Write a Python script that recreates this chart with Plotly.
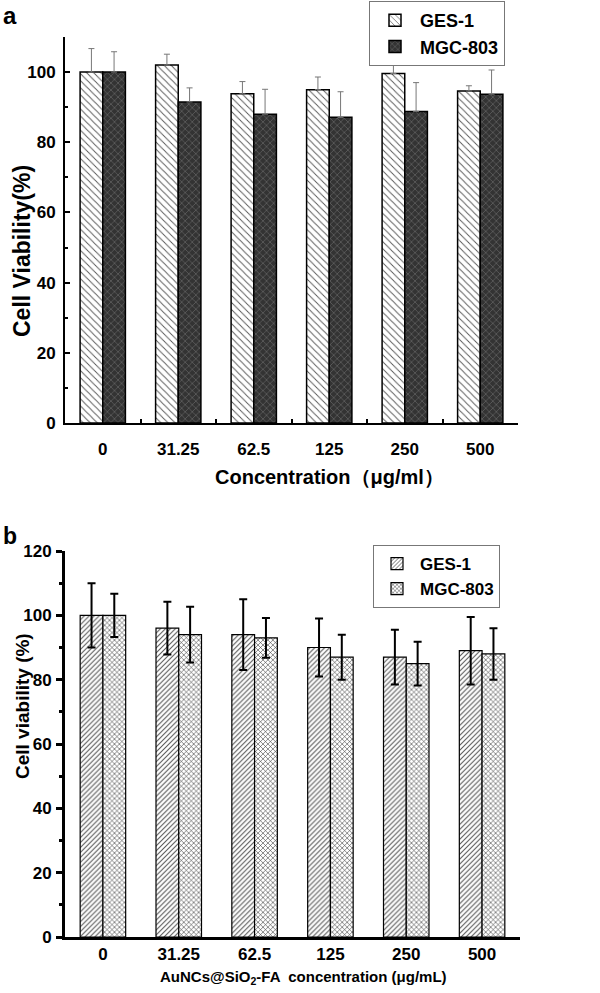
import plotly.graph_objects as go

W, H = 600, 993

# ---------------- data ----------------
conc_labels = ["0", "31.25", "62.5", "125", "250", "500"]

a_ges = [100.0, 102.0, 93.8, 95.0, 99.6, 94.6]
a_ges_err = [6.7, 3.1, 3.5, 3.6, 3.4, 1.5]
a_mgc = [100.0, 91.5, 88.0, 87.1, 88.8, 93.7]
a_mgc_err = [5.8, 4.0, 7.1, 7.3, 8.2, 6.9]

b_ges = [100.0, 96.0, 94.0, 90.0, 87.0, 89.0]
b_ges_err = [10.0, 8.2, 11.0, 9.0, 8.5, 10.5]
b_mgc = [100.0, 94.0, 93.0, 87.0, 85.0, 88.0]
b_mgc_err = [6.7, 8.7, 6.2, 7.0, 6.8, 8.0]

series_names = ["GES-1", "MGC-803"]

FONT = "Liberation Sans, Arial, Helvetica, sans-serif"


def px_x(p):
    return p / W


def px_y(p):
    return 1 - p / H


fig = go.Figure()

# ---------------- panel a ----------------
fig.add_trace(go.Bar(
    x=conc_labels, y=a_ges, name=series_names[0],
    xaxis="x", yaxis="y", legend="legend",
    marker=dict(color="white", line=dict(color="black", width=1.5),
                pattern=dict(shape="\\", size=5, solidity=0.18,
                             fgcolor="#555555", bgcolor="white", fillmode="replace")),
    error_y=dict(type="data", symmetric=False, array=a_ges_err,
                 arrayminus=[0] * len(a_ges_err), color="#777777",
                 thickness=1, width=3),
))
fig.add_trace(go.Bar(
    x=conc_labels, y=a_mgc, name=series_names[1],
    xaxis="x", yaxis="y", legend="legend",
    marker=dict(color="#333333", line=dict(color="black", width=1.5),
                pattern=dict(shape="x", size=5, solidity=0.18,
                             fgcolor="#7a7a7a", bgcolor="#333333", fillmode="replace")),
    error_y=dict(type="data", symmetric=False, array=a_mgc_err,
                 arrayminus=[0] * len(a_mgc_err), color="#777777",
                 thickness=1, width=3),
))

# ---------------- panel b ----------------
fig.add_trace(go.Bar(
    x=conc_labels, y=b_ges, name=series_names[0],
    xaxis="x2", yaxis="y2", legend="legend2",
    marker=dict(color="white", line=dict(color="black", width=1.2),
                pattern=dict(shape="/", size=3.5, solidity=0.3,
                             fgcolor="#555555", bgcolor="white", fillmode="replace")),
    error_y=dict(type="data", array=b_ges_err, color="black",
                 thickness=2, width=4),
))
fig.add_trace(go.Bar(
    x=conc_labels, y=b_mgc, name=series_names[1],
    xaxis="x2", yaxis="y2", legend="legend2",
    marker=dict(color="white", line=dict(color="black", width=1.2),
                pattern=dict(shape="x", size=3.5, solidity=0.3,
                             fgcolor="#333333", bgcolor="white", fillmode="replace")),
    error_y=dict(type="data", array=b_mgc_err, color="black",
                 thickness=2, width=4),
))

tick_font_a = dict(family=FONT, size=17, color="black", weight="bold")
tick_font_b = dict(family=FONT, size=17, color="black", weight="bold")

fig.update_layout(
    width=W, height=H, autosize=False,
    margin=dict(l=0, r=0, t=0, b=0, pad=0, autoexpand=False),
    paper_bgcolor="white", plot_bgcolor="white",
    barmode="group", bargap=0.4, bargroupgap=0,
    font=dict(family=FONT, color="black"),
    xaxis=dict(
        domain=[px_x(65), px_x(518)], anchor="y",
        type="category", range=[-0.5, 5.5],
        showline=True, linecolor="black", linewidth=2,
        ticks="inside", tickson="boundaries", ticklen=4, tickwidth=1.5,
        tickcolor="black", tickfont=tick_font_a, ticklabelstandoff=10,
        showgrid=False, zeroline=False, automargin=False,
    ),
    yaxis=dict(
        domain=[px_y(423), px_y(37)], anchor="x",
        range=[0, 110], dtick=20, tick0=0,
        showline=True, linecolor="black", linewidth=2,
        ticks="inside", ticklen=5, tickwidth=1.5, tickcolor="black",
        minor=dict(dtick=10, ticks="inside", ticklen=3, tickwidth=1.5, tickcolor="black"),
        tickfont=tick_font_a, ticklabelstandoff=4,
        showgrid=False, zeroline=False, automargin=False,
    ),
    xaxis2=dict(
        domain=[px_x(65), px_x(520)], anchor="y2",
        type="category", range=[-0.5, 5.5],
        showline=True, linecolor="black", linewidth=3,
        ticks="", ticklen=0, tickfont=tick_font_b, ticklabelstandoff=0,
        showgrid=False, zeroline=False, automargin=False,
    ),
    yaxis2=dict(
        domain=[px_y(937), px_y(551)], anchor="x2",
        range=[0, 120], dtick=20, tick0=0,
        showline=True, linecolor="black", linewidth=3,
        ticks="outside", ticklen=6, tickwidth=2.5, tickcolor="black",
        minor=dict(dtick=10, ticks="outside", ticklen=3, tickwidth=2.5, tickcolor="black"),
        tickfont=tick_font_b, ticklabelstandoff=1,
        showgrid=False, zeroline=False, automargin=False,
    ),
    legend=dict(
        x=px_x(369), y=px_y(1), xanchor="left", yanchor="top",
        bordercolor="#777777", borderwidth=1, bgcolor="white",
        font=dict(family=FONT, size=18, color="black", weight="bold"),
        itemwidth=40, tracegroupgap=0,
    ),
    legend2=dict(
        x=px_x(373), y=px_y(545), xanchor="left", yanchor="top",
        bordercolor="#777777", borderwidth=1, bgcolor="white",
        font=dict(family=FONT, size=17, color="black", weight="bold"),
        itemwidth=36, tracegroupgap=0,
    ),
    annotations=[
        dict(text="a", x=px_x(1), y=px_y(0), xref="paper", yref="paper",
             xanchor="left", yanchor="top", showarrow=False,
             font=dict(family=FONT, size=24, color="black", weight="bold")),
        dict(text="b", x=px_x(1), y=px_y(521), xref="paper", yref="paper",
             xanchor="left", yanchor="top", showarrow=False,
             font=dict(family=FONT, size=23, color="black", weight="bold")),
        dict(text="Cell Viability(%)", x=px_x(22), y=px_y(251), xref="paper", yref="paper",
             xanchor="center", yanchor="middle", textangle=-90, showarrow=False,
             font=dict(family=FONT, size=23, color="black", weight="bold")),
        dict(text="Concentration（μg/ml）", x=px_x(329), y=px_y(477), xref="paper", yref="paper",
             xanchor="center", yanchor="middle", showarrow=False,
             font=dict(family=FONT, size=20, color="black", weight="bold")),
        dict(text="Cell viability (%)", x=px_x(22), y=px_y(706), xref="paper", yref="paper",
             xanchor="center", yanchor="middle", textangle=-90, showarrow=False,
             font=dict(family=FONT, size=19, color="black", weight="bold")),
        dict(text="AuNCs@SiO<sub>2</sub>-FA  concentration (μg/mL)", x=px_x(303), y=px_y(977),
             xref="paper", yref="paper", xanchor="center", yanchor="middle", showarrow=False,
             font=dict(family=FONT, size=15, color="black", weight="bold")),
    ],
)

fig.write_html(
    "out.html",
    config={"displayModeBar": False},
    post_script="document.body.style.margin='0px';document.body.style.padding='0px';",
)
